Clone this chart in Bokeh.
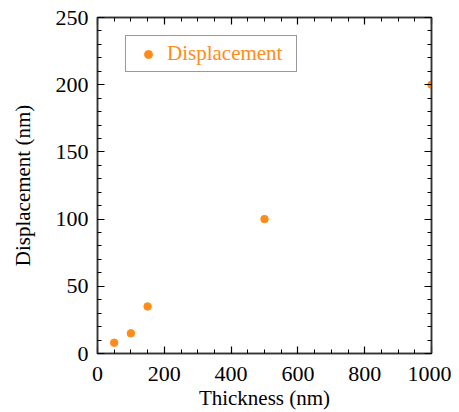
from bokeh.plotting import figure
from bokeh.models import LinearAxis, SingleIntervalTicker, Legend, LegendItem, Range1d
from bokeh.embed import file_html
from bokeh.resources import INLINE

thickness = [50, 100, 150, 500, 1000]
displacement = [8, 15, 35, 100, 200]
series_name = "Displacement"

FONT = "Liberation Serif"
ORANGE = "#ff8c1a"
AXC = "#333333"

p = figure(frame_width=334, frame_height=336, output_backend="svg", toolbar_location=None,
           x_range=Range1d(0, 1000), y_range=Range1d(0, 250),
           min_border_left=97, min_border_right=20, min_border_top=17, min_border_bottom=40)
p.xgrid.visible = False
p.ygrid.visible = False
p.outline_line_color = AXC
p.outline_line_width = 1.5

r = p.scatter(thickness, displacement, size=7.5, color=ORANGE)

xt = SingleIntervalTicker(interval=200, num_minor_ticks=4)
yt = SingleIntervalTicker(interval=50, num_minor_ticks=5)

def style(ax, labels=True):
    ax.major_tick_in = 7
    ax.major_tick_out = 0
    ax.minor_tick_in = 4
    ax.minor_tick_out = 0
    ax.axis_line_color = AXC
    ax.axis_line_width = 1.5
    ax.major_tick_line_color = "black"
    ax.minor_tick_line_color = "black"
    ax.major_tick_line_width = 1.2
    ax.minor_tick_line_width = 1.0
    ax.major_label_text_font = FONT
    ax.major_label_text_font_size = "22px"
    ax.major_label_text_color = "black"
    ax.axis_label_text_font = FONT
    ax.axis_label_text_font_size = "21px"
    ax.axis_label_text_font_style = "normal"
    ax.axis_label_text_color = "black"
    if not labels:
        ax.major_label_text_font_size = "0px"
        ax.major_label_text_alpha = 0
        ax.major_label_standoff = 0

p.xaxis.ticker = xt
p.yaxis.ticker = yt
p.xaxis.axis_label = "Thickness (nm)"
p.yaxis.axis_label = "Displacement (nm)"
style(p.xaxis[0])
style(p.yaxis[0])
p.xaxis.major_label_standoff = 13
p.yaxis.major_label_standoff = 9
p.xaxis.axis_label_standoff = 2
p.yaxis.axis_label_standoff = 18

top = LinearAxis(ticker=xt)
style(top, labels=False)
right = LinearAxis(ticker=yt)
style(right, labels=False)
p.add_layout(top, "above")
p.add_layout(right, "right")

legend = Legend(items=[LegendItem(label=series_name, renderers=[r])],
                location=(28, 281))
legend.label_text_font = FONT
legend.label_text_font_size = "21px"
legend.label_text_color = ORANGE
legend.border_line_color = AXC
legend.border_line_width = 1.5
legend.padding = 5
legend.glyph_width = 34
legend.label_standoff = 2
legend.label_width = 124
legend.margin = 0
p.add_layout(legend, "center")

open("out.html", "w").write(file_html(p, INLINE))
